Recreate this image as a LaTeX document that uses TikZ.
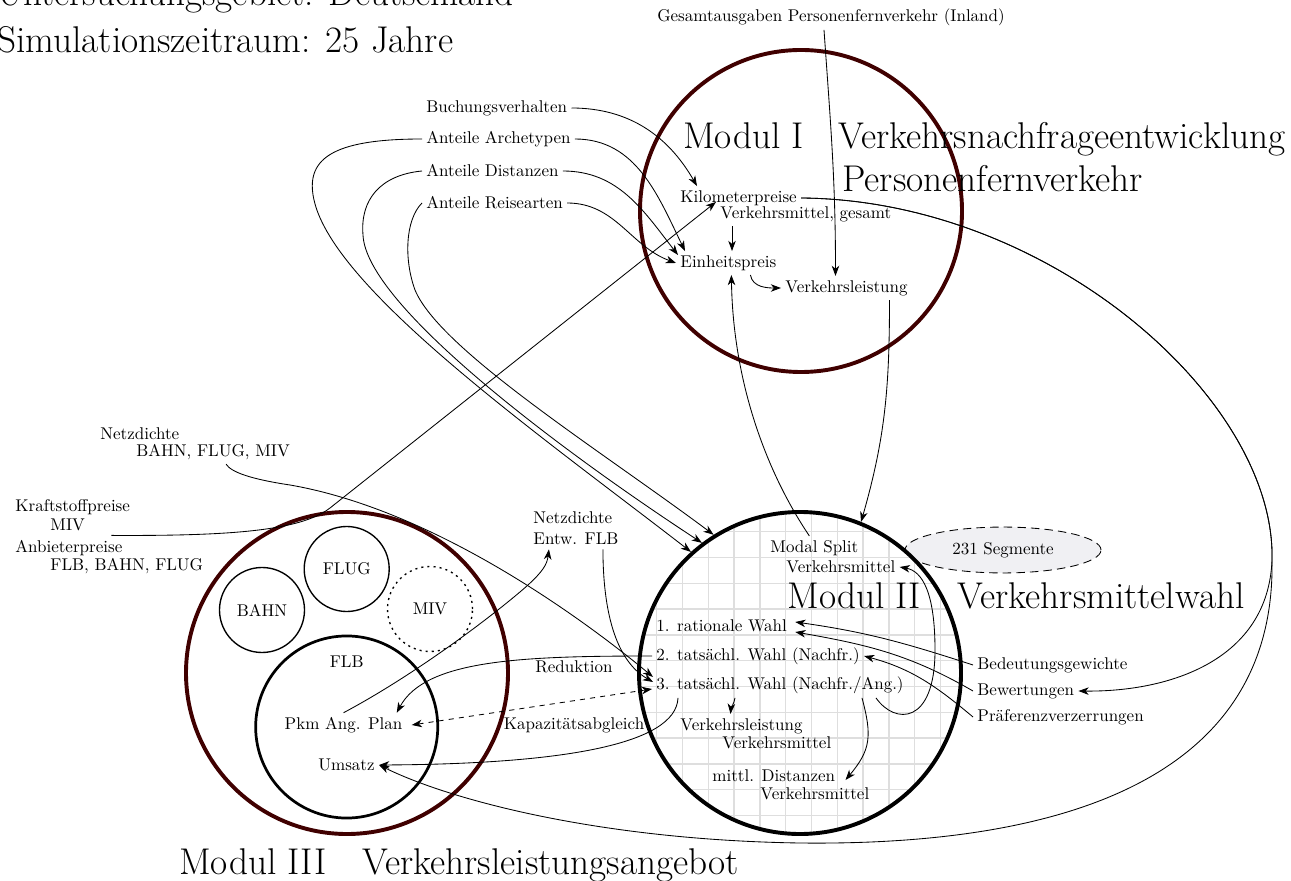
\documentclass[tikz,border=0pt]{standalone}
\usetikzlibrary{arrows.meta,calc,shapes.geometric}
\definecolor{modred}{RGB}{64,0,0}
\definecolor{gridgray}{RGB}{222,222,222}
\definecolor{segfill}{RGB}{240,240,243}
\newcommand\bigfont{\fontsize{21.9}{26}\selectfont}
\begin{document}
\begin{tikzpicture}[x=0.5882pt,y=0.5882pt,
  txt/.style={inner sep=2.4pt,anchor=west},
  ctxt/.style={inner sep=2.4pt},
  big/.style={inner sep=0pt,anchor=base west,font=\bigfont},
  conn/.style={line width=0.5pt,-{Stealth[length=6pt,width=4.4pt,inset=1.8pt]}},
  modcirc/.style={circle,draw,minimum size=189.4pt,inner sep=0pt,line width=2.3pt},
  smallcirc/.style={circle,draw,minimum size=50pt,inner sep=0pt,line width=0.8pt},
  gridline/.style={gridgray,line width=0.8pt}]
\useasboundingbox (0,0) rectangle (1291,-881);

% grid inside module II
\begin{scope}
  \clip (800,-673) circle[radius=161];
  \foreach \k in {-7,...,7}{
    \draw[gridline] ({785.7+\k*25.8},-500) -- ({785.7+\k*25.8},-850);
    \draw[gridline] (600,{-660.7-\k*25.8}) -- (1000,{-660.7-\k*25.8});
  }
\end{scope}

% segment ellipse
\node[ellipse,draw,dash pattern=on 5pt off 3pt,fill=segfill,line width=0.5pt,
      minimum width=115.3pt,minimum height=27pt,inner sep=0pt] (seg) at (1003,-550) {231 Segmente};

% module circles
\node[modcirc,draw=modred] (m1) at (801,-211) {};
\node[modcirc,draw=black] (m2) at (800,-673) {};
\node[modcirc,draw=modred] (m3) at (347,-673) {};
\node[circle,draw,line width=1.6pt,minimum size=107.1pt,inner sep=0pt] (flb) at (346.7,-727) {};
\node[smallcirc] (bahn) at (262,-610) {BAHN};
\node[smallcirc] (flug) at (346.7,-569) {FLUG};
\node[smallcirc,dash pattern=on 1.2pt off 2.4pt] (miv) at (430,-609) {MIV};
\node[ctxt] (flblab) at (346.7,-662) {FLB};

% titles
\node[big] (t1a) at (683,-149) {Modul I};
\node[big] (t1b) at (838,-149) {Verkehrsnachfrageentwicklung};
\node[big] (t1c) at (842,-192) {Personenfernverkehr};
\node[big] (t2a) at (787,-608) {Modul II};
\node[big] (t2b) at (957,-608) {Verkehrsmittelwahl};
\node[big] (t3a) at (179,-874) {Modul III};
\node[big] (t3b) at (362,-874) {Verkehrsleistungsangebot};
\node[big] (ug) at (-3,-6) {Untersuchungsgebiet: Deutschland};
\node[big] (sz) at (-3,-53) {Simulationszeitraum: 25 Jahre};

% small labels
\node[ctxt] (ga) at (831,-17) {Gesamtausgaben Personenfernverkehr (Inland)};
\node[txt] (bv) at (422,-108) {Buchungsverhalten};
\node[txt] (aa) at (422,-139) {Anteile Archetypen};
\node[txt] (ad) at (422,-171) {Anteile Distanzen};
\node[txt] (ar) at (422,-203) {Anteile Reisearten};
\node[txt] (kp1) at (676,-198) {Kilometerpreise};
\node[txt] (kp2) at (716,-214) {Verkehrsmittel, gesamt};
\node[txt] (ep) at (676,-263) {Einheitspreis};
\node[txt] (vl1) at (781,-288) {Verkehrsleistung};

\node[txt] (ndb1) at (96,-434) {Netzdichte};
\node[txt] (ndb2) at (132,-452) {BAHN, FLUG, MIV};
\node[txt] (kf1) at (11,-507) {Kraftstoffpreise};
\node[txt] (kf2) at (46,-525) {MIV};
\node[txt] (ab1) at (11,-548) {Anbieterpreise};
\node[txt] (ab2) at (46,-566) {FLB, BAHN, FLUG};
\node[txt] (nd1) at (529,-518) {Netzdichte};
\node[txt] (nd2) at (529,-539) {Entw. FLB};
\node[ctxt] (red) at (574,-667) {Reduktion};
\node[ctxt] (kap) at (574,-725) {Kapazitätsabgleich};
\node[ctxt] (pkm) at (343.5,-725) {Pkm Ang. Plan};
\node[ctxt] (ums) at (346.5,-765) {Umsatz};

\node[txt] (ms1) at (766,-548) {Modal Split};
\node[txt] (ms2) at (782,-567) {Verkehrsmittel};
\node[txt] (w1) at (652,-626) {1. rationale Wahl};
\node[txt] (w2) at (652,-656) {2. tatsächl. Wahl (Nachfr.)};
\node[txt] (w3) at (652,-685) {3. tatsächl. Wahl (Nachfr./Ang.)};
\node[txt] (vl2a) at (676,-726) {Verkehrsleistung};
\node[txt] (vl2b) at (718,-743) {Verkehrsmittel};
\node[txt] (md1) at (708,-776) {mittl. Distanzen};
\node[txt] (md2) at (756,-794) {Verkehrsmittel};
\node[txt] (bg) at (973,-665) {Bedeutungsgewichte};
\node[txt] (bw) at (973,-691) {Bewertungen};
\node[txt] (pv) at (973,-717) {Präferenzverzerrungen};

% ---------- connectors, module I ----------
\draw[conn] ($(ga.south)+(-7,0)$) to[out=-86,in=90] ($(vl1.north)+(-11,0)$);
\draw[conn] (bv.east) to[out=0,in=120] ($(kp1.north west)+(21,0)$);
\draw[conn] (aa.east) to[out=0,in=116] ($(ep.north west)+(9,0)$);
\draw[conn] (ad.east) to[out=0,in=128] ($(ep.west)+(2,8)$);
\draw[conn] (ar.east) to[out=0,in=160] (ep.west);
\draw[conn] ($(kp2.south west)+(16,0)$) -- ($(ep.north west)+(56,0)$);
\draw[conn] ($(ep.south)+(22,0)$) to[out=-80,in=180] (vl1.west);
\draw[conn] ($(vl1.south)+(43,0)$) to[out=-90,in=74] (m2.68);
\draw[conn] ($(ms1.north)+(-5,0)$) .. controls (765,-470) and (733,-380) .. ($(ep.south)+(3,0)$);

% loops from the Anteile labels into module II
\draw[conn] (aa.west) .. controls (330,-139) and (305,-160) .. (314,-200)
  .. controls (334,-290) and (540,-435) .. (m2.132);
\draw[conn] (ad.west) .. controls (380,-175) and (360,-200) .. (363,-235)
  .. controls (366,-305) and (560,-450) .. (m2.127);
\draw[conn] (ar.west) .. controls (405,-220) and (404,-260) .. (415,-290)
  .. controls (440,-350) and (600,-450) .. (m2.122);

% Kraftstoffpreise -> Kilometerpreise
\draw[conn] ($(kf2.south east)+(22,0)$) .. controls (230,-536) and (300,-531) .. (330,-508) -- (kp2.north west);

% Kilometerpreise -> Bewertungen and Umsatz
\coordinate (rt) at (1272,-560);
\coordinate (bot) at (800,-843);
\draw[conn] (kp1.east) .. controls (1050,-200) and (1276,-400) .. (rt)
  .. controls (1268,-660) and (1170,-692) .. (bw.east);
\draw[conn] (kp1.east) .. controls (1050,-200) and (1276,-400) .. (rt)
  .. controls (1276,-780) and (1060,-846) .. (bot)
  .. controls (600,-840) and (450,-800) .. (ums.east);

% ---------- module II ----------
\draw[conn] (bg.west) to[out=162,in=-8] ($(w1.east)+(4,4)$);
\draw[conn] (bw.west) to[out=150,in=-10] ($(w1.east)+(4,-6)$);
\draw[conn] (pv.west) to[out=140,in=-15] (w2.east);
\draw[conn] ($(w3.south west)+(83,0)$) to[out=-100,in=85] ($(vl2a.north)+(-11,0)$);
\draw[conn] ($(w3.south east)+(-46,0)$) to[out=-75,in=50,looseness=1.2] ($(md1.east)+(6,-4)$);
\draw[conn] ($(w3.south east)+(-32,0)$) .. controls (895,-725) and (935,-725) .. (935,-650)
  .. controls (935,-592) and (922,-571) .. (ms2.east);
\draw[conn] ($(w3.south west)+(26,0)$) .. controls (676,-745) and (560,-764) .. (ums.east);

% ---------- module III links ----------
\draw[conn] (w2.west) .. controls (520,-656) and (425,-660) .. ($(pkm.north east)+(-10,0)$);
\draw[line width=0.5pt,dashed,{Stealth[length=6pt,width=4.4pt,inset=1.8pt]}-{Stealth[length=6pt,width=4.4pt,inset=1.8pt]}]
  ($(pkm.east)+(5,0)$) -- ($(w3.west)+(0,-4)$);
\draw[conn] (pkm.north) .. controls (420,-672) and (500,-610) .. (528,-585)
  .. controls (542,-572) and (547,-565) .. ($(nd2.south)+(-27,0)$);
\draw[conn] ($(nd2.south)+(27,0)$) .. controls (603,-610) and (615,-660) .. ($(w3.west)+(1,3)$);
\draw[conn] ($(ndb2.south)+(13,0)$) .. controls (231,-472) and (250,-479) .. (290,-485)
  .. controls (440,-511) and (593,-627) .. ($(w3.west)+(1,8)$);
\end{tikzpicture}
\end{document}
